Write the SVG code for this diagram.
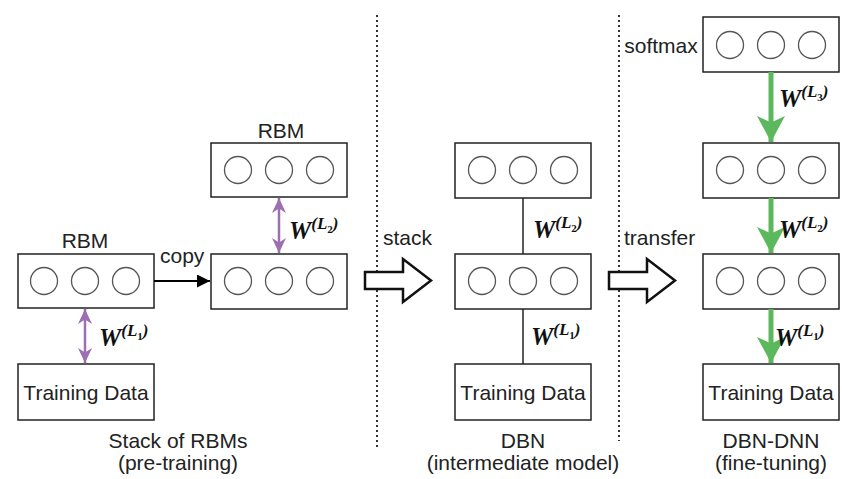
<svg xmlns="http://www.w3.org/2000/svg" width="842" height="479" viewBox="0 0 842 479">
<style>
.box{fill:#fff;stroke:#222;stroke-width:1.5}
.c{fill:none;stroke:#555;stroke-width:1.3}
.t{font-family:"Liberation Sans",Arial,sans-serif;font-size:21px;fill:#222}
.w{font-family:"Liberation Serif","Times New Roman",serif;font-weight:bold;font-style:italic;font-size:25px;fill:#111}
.sup{font-family:"Liberation Serif","Times New Roman",serif;font-style:italic;font-weight:bold;font-size:17px;fill:#111}
.sub{font-family:"Liberation Serif","Times New Roman",serif;font-weight:bold;font-size:11px;fill:#111}
.dot{stroke:#333;stroke-width:2;stroke-dasharray:2 3;fill:none}
</style>
<defs>
<marker id="ab" viewBox="0 0 10 10" refX="10" refY="5" markerWidth="13" markerHeight="13" markerUnits="userSpaceOnUse" orient="auto"><path d="M0,0 L10,5 L0,10 Z" fill="#000"/></marker>
<marker id="ap" viewBox="0 0 10 10" refX="10" refY="5" markerWidth="15" markerHeight="14" markerUnits="userSpaceOnUse" orient="auto-start-reverse" preserveAspectRatio="none"><path d="M0,0 L10,5 L0,10 L3,5 Z" fill="#9b6fb0"/></marker>
<marker id="ag" viewBox="0 0 10 10" refX="10" refY="5" markerWidth="26" markerHeight="28" markerUnits="userSpaceOnUse" orient="auto" preserveAspectRatio="none"><path d="M0,0 L10,5 L0,10 L2.5,5 Z" fill="#5cb85c"/></marker>
<g id="three"><circle class="c" cx="-41" cy="0" r="13.5"/><circle class="c" cx="0" cy="0" r="13.5"/><circle class="c" cx="41" cy="0" r="13.5"/></g>
</defs>
<rect width="842" height="479" fill="#fff"/>

<g id="dividers">
<line class="dot" x1="377" y1="15" x2="377" y2="447"/>
<line class="dot" x1="619" y1="15" x2="619" y2="441"/>
</g>

<!-- Column 1 -->
<g id="rbm1">
<text class="t" x="85" y="248" text-anchor="middle">RBM</text>
<rect class="box" x="18" y="254" width="136" height="54"/>
<use href="#three" x="85" y="281"/>
</g>
<g id="data1">
<rect class="box" x="18" y="364" width="136" height="56"/>
<text class="t" x="86" y="400" text-anchor="middle">Training Data</text>
</g>
<g id="rbm2top">
<text class="t" x="281" y="138" text-anchor="middle">RBM</text>
<rect class="box" x="211" y="143" width="136" height="54"/>
<use href="#three" x="279" y="170"/>
</g>
<g id="rbm2bot">
<rect class="box" x="211" y="254" width="136" height="55"/>
<use href="#three" x="279" y="281"/>
</g>
<g id="caption1">
<text class="t" x="178" y="448" text-anchor="middle">Stack of RBMs</text>
<text class="t" x="178" y="470" text-anchor="middle">(pre-training)</text>
</g>

<!-- Column 2 -->
<g id="dbn3">
<rect class="box" x="455" y="143" width="136" height="55"/>
<use href="#three" x="523" y="170"/>
</g>
<g id="dbn2">
<rect class="box" x="455" y="254" width="136" height="55"/>
<use href="#three" x="523" y="281"/>
</g>
<g id="data2">
<rect class="box" x="455" y="364" width="136" height="56"/>
<text class="t" x="523" y="400" text-anchor="middle">Training Data</text>
</g>
<g id="caption2">
<text class="t" x="523" y="448" text-anchor="middle">DBN</text>
<text class="t" x="523" y="470" text-anchor="middle">(intermediate model)</text>
</g>

<!-- Column 3 -->
<g id="softmax">
<text class="t" x="661" y="53" text-anchor="middle">softmax</text>
<rect class="box" x="703" y="17" width="136" height="55"/>
<use href="#three" x="771" y="45"/>
</g>
<g id="dnn3">
<rect class="box" x="703" y="143" width="136" height="55"/>
<use href="#three" x="771" y="170"/>
</g>
<g id="dnn2">
<rect class="box" x="703" y="254" width="136" height="55"/>
<use href="#three" x="771" y="281"/>
</g>
<g id="data3">
<rect class="box" x="703" y="364" width="136" height="56"/>
<text class="t" x="771" y="400" text-anchor="middle">Training Data</text>
</g>
<g id="caption3">
<text class="t" x="771" y="448" text-anchor="middle">DBN-DNN</text>
<text class="t" x="771" y="470" text-anchor="middle">(fine-tuning)</text>
</g>

<!-- Connectors -->
<g id="connectors">
<line x1="154" y1="281" x2="210" y2="281" stroke="#000" stroke-width="2" marker-end="url(#ab)"/>
<line x1="85" y1="309" x2="85" y2="363" stroke="#9b6fb0" stroke-width="2.5" marker-start="url(#ap)" marker-end="url(#ap)"/>
<line x1="279" y1="198" x2="279" y2="253" stroke="#9b6fb0" stroke-width="2.5" marker-start="url(#ap)" marker-end="url(#ap)"/>
<line x1="523" y1="198" x2="523" y2="254" stroke="#222" stroke-width="1.5"/>
<line x1="523" y1="309" x2="523" y2="364" stroke="#222" stroke-width="1.5"/>
<line x1="771" y1="72" x2="771" y2="142" stroke="#5cb85c" stroke-width="5" marker-end="url(#ag)"/>
<line x1="771" y1="198" x2="771" y2="253" stroke="#5cb85c" stroke-width="5" marker-end="url(#ag)"/>
<line x1="771" y1="309" x2="771" y2="363" stroke="#5cb85c" stroke-width="5" marker-end="url(#ag)"/>
<path d="M365,272 L403,272 L403,259 L431,280.5 L403,302 L403,289 L365,289 Z" fill="#fff" stroke="#111" stroke-width="2.5" stroke-linejoin="miter"/>
<path d="M609,272 L647,272 L647,259 L675,280.5 L647,302 L647,289 L609,289 Z" fill="#fff" stroke="#111" stroke-width="2.5" stroke-linejoin="miter"/>
<text class="t" x="160" y="263">copy</text>
<text class="t" x="383" y="245">stack</text>
<text class="t" x="624" y="245">transfer</text>
</g>

<!-- weight labels -->
<g id="weights">
<text x="99" y="346"><tspan class="w">W</tspan><tspan class="sup" dy="-10">(</tspan><tspan class="sup">L</tspan><tspan class="sub" dy="4">1</tspan><tspan class="sup" dy="-4">)</tspan></text>
<text x="289" y="239"><tspan class="w">W</tspan><tspan class="sup" dy="-10">(</tspan><tspan class="sup">L</tspan><tspan class="sub" dy="4">2</tspan><tspan class="sup" dy="-4">)</tspan></text>
<text x="533" y="238"><tspan class="w">W</tspan><tspan class="sup" dy="-10">(</tspan><tspan class="sup">L</tspan><tspan class="sub" dy="4">2</tspan><tspan class="sup" dy="-4">)</tspan></text>
<text x="531" y="345"><tspan class="w">W</tspan><tspan class="sup" dy="-10">(</tspan><tspan class="sup">L</tspan><tspan class="sub" dy="4">1</tspan><tspan class="sup" dy="-4">)</tspan></text>
<text x="779" y="107"><tspan class="w">W</tspan><tspan class="sup" dy="-10">(</tspan><tspan class="sup">L</tspan><tspan class="sub" dy="4">3</tspan><tspan class="sup" dy="-4">)</tspan></text>
<text x="779" y="238"><tspan class="w">W</tspan><tspan class="sup" dy="-10">(</tspan><tspan class="sup">L</tspan><tspan class="sub" dy="4">2</tspan><tspan class="sup" dy="-4">)</tspan></text>
<text x="775" y="346"><tspan class="w">W</tspan><tspan class="sup" dy="-10">(</tspan><tspan class="sup">L</tspan><tspan class="sub" dy="4">1</tspan><tspan class="sup" dy="-4">)</tspan></text>
</g>
</svg>
